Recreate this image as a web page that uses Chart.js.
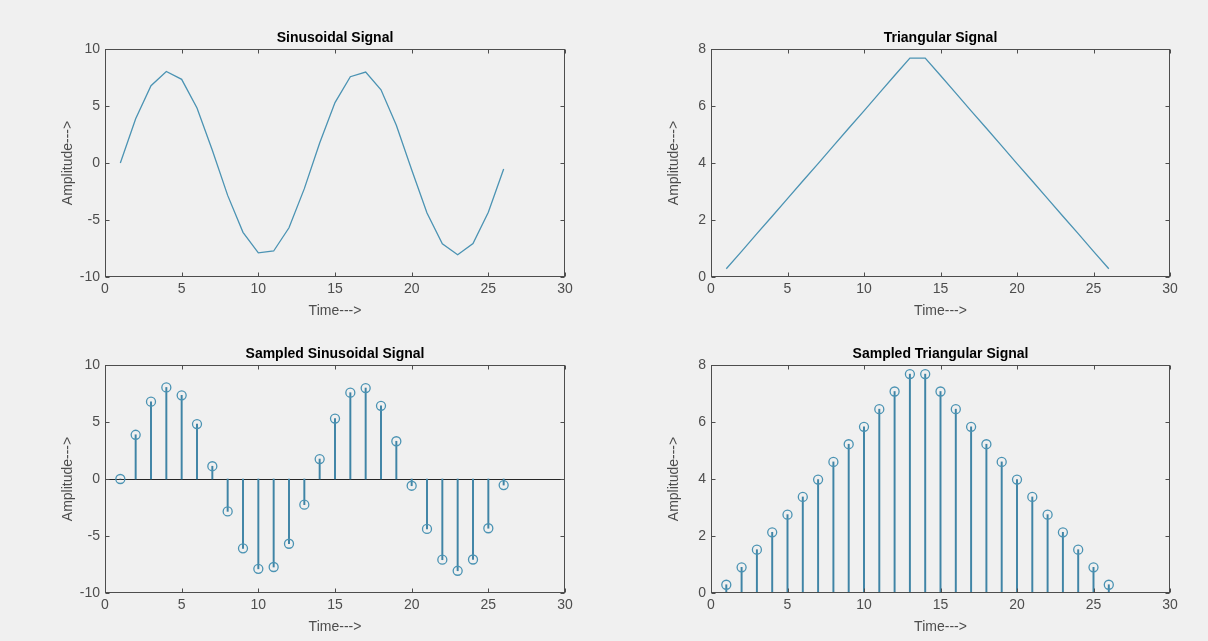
<!DOCTYPE html>
<html>
<head>
<meta charset="utf-8">
<title>Signals</title>
<script src="https://cdn.jsdelivr.net/npm/chart.js@4.4.1/dist/chart.umd.min.js"></script>
<style>
  html, body { margin: 0; padding: 0; background: #f0f0f0; }
  body { width: 1208px; height: 641px; position: relative; overflow: hidden; }
  canvas { position: absolute; }
</style>
</head>
<body>
<canvas id="sine" width="555" height="303" style="left:30px;top:19px"></canvas>
<canvas id="tri" width="554" height="303" style="left:636px;top:19px"></canvas>
<canvas id="sineS" width="555" height="303" style="left:30px;top:335px"></canvas>
<canvas id="triS" width="554" height="303" style="left:636px;top:335px"></canvas>
<script>
// sample index n = 1..26
const timeIdx = [1, 2, 3, 4, 5, 6, 7, 8, 9, 10, 11, 12, 13, 14, 15, 16, 17, 18, 19, 20, 21, 22, 23, 24, 25, 26];
const sineAmp = [0, 3.88, 6.78, 8.03, 7.34, 4.82, 1.12, -2.84, -6.08, -7.88, -7.72, -5.68, -2.25, 1.75,
                 5.3, 7.57, 7.98, 6.42, 3.31, -0.59, -4.38, -7.08, -8.05, -7.06, -4.32, -0.53];
const triAmp = [0.29, 0.9, 1.52, 2.13, 2.75, 3.37, 3.98, 4.6, 5.22, 5.83, 6.45, 7.07, 7.68,
                7.68, 7.07, 6.45, 5.83, 5.22, 4.6, 3.98, 3.37, 2.75, 2.13, 1.52, 0.9, 0.29];

const lineColor = '#4b93b3';
const stemColor = '#3f84a6';
const axisColor = '#4d4d4d';
const fontFamily = "'Liberation Sans', Arial, Helvetica, sans-serif";

function toPoints(ys) {
    return timeIdx.map((x, i) => ({ x: x, y: ys[i] }));
}

// matlab-ish box with inward ticks, baseline for stem plots, and title
const axesBox = {
    id: 'axesBox',
    beforeDatasetsDraw(chart, args, opts) {
        if (!opts.baseline) return;
        const { ctx, chartArea: a, scales } = chart;
        const y0 = Math.round(scales.y.getPixelForValue(0)) + 0.5;
        ctx.save();
        ctx.strokeStyle = '#262626';
        ctx.lineWidth = 1;
        ctx.beginPath();
        ctx.moveTo(a.left, y0);
        ctx.lineTo(a.right, y0);
        ctx.stroke();
        ctx.restore();
    },
    afterDatasetsDraw(chart, args, opts) {
        const { ctx, chartArea: a, scales } = chart;
        ctx.save();
        ctx.strokeStyle = axisColor;
        ctx.lineWidth = 1;
        const L = Math.round(a.left) + 0.5, R = Math.round(a.right) - 0.5;
        const T = Math.round(a.top) + 0.5, B = Math.round(a.bottom) - 0.5;
        ctx.strokeRect(L, T, R - L, B - T);
        ctx.beginPath();
        scales.x.ticks.forEach(t => {
            const px = Math.round(scales.x.getPixelForValue(t.value)) + 0.5;
            ctx.moveTo(px, B); ctx.lineTo(px, B - 4);
            ctx.moveTo(px, T); ctx.lineTo(px, T + 4);
        });
        scales.y.ticks.forEach(t => {
            const py = Math.round(scales.y.getPixelForValue(t.value)) + 0.5;
            ctx.moveTo(L, py); ctx.lineTo(L + 4, py);
            ctx.moveTo(R, py); ctx.lineTo(R - 4, py);
        });
        ctx.stroke();

        ctx.fillStyle = '#000';
        ctx.font = 'bold 14px ' + fontFamily;
        ctx.textAlign = 'center';
        ctx.textBaseline = 'bottom';
        ctx.fillText(opts.title, (a.left + a.right) / 2, a.top - 4);
        ctx.restore();
    }
};

function makePanel(id, title, yMin, yMax, yStep, values, sampled) {
    let datasets;
    if (sampled) {
        datasets = [{
            type: 'bar',
            data: toPoints(values),
            backgroundColor: stemColor,
            barThickness: 1.3,
            grouped: false,
            order: 2
        }, {
            type: 'scatter',
            data: toPoints(values),
            pointStyle: 'circle',
            pointRadius: 4.5,
            pointBackgroundColor: 'rgba(255,255,255,0)',
            pointBorderColor: lineColor,
            pointBorderWidth: 1.3,
            order: 1
        }];
    } else {
        datasets = [{
            type: 'line',
            data: toPoints(values),
            borderColor: lineColor,
            borderWidth: 1.3,
            pointRadius: 0,
            tension: 0,
            fill: false
        }];
    }
    return new Chart(document.getElementById(id).getContext('2d'), {
        type: 'scatter',
        data: { datasets: datasets },
        options: {
            responsive: false,
            animation: false,
            events: [],
            layout: { padding: { top: 30, right: 20, left: 0, bottom: 0 } },
            plugins: {
                legend: { display: false },
                tooltip: { enabled: false },
                axesBox: { title: title, baseline: sampled && yMin < 0 }
            },
            scales: {
                x: {
                    type: 'linear',
                    min: 0,
                    max: 30,
                    offset: false,
                    grid: { display: false, drawTicks: false },
                    border: { display: false },
                    ticks: { stepSize: 5, color: axisColor, padding: 4, font: { family: fontFamily, size: 14 } },
                    title: { display: true, text: 'Time--->', color: axisColor, padding: { top: 2, bottom: 2 },
                             font: { family: fontFamily, size: 14 } },
                    afterFit(scale) { scale.height = 45; }
                },
                y: {
                    min: yMin,
                    max: yMax,
                    grid: { display: false, drawTicks: false },
                    border: { display: false },
                    ticks: { stepSize: yStep, color: axisColor, padding: 5, font: { family: fontFamily, size: 14 } },
                    title: { display: true, text: 'Amplitude--->', color: axisColor, padding: { top: 30, bottom: 4 },
                             font: { family: fontFamily, size: 14 } },
                    afterFit(scale) { scale.width = 75; }
                }
            }
        },
        plugins: [axesBox]
    });
}

makePanel('sine', 'Sinusoidal Signal', -10, 10, 5, sineAmp, false);
makePanel('tri', 'Triangular Signal', 0, 8, 2, triAmp, false);
makePanel('sineS', 'Sampled Sinusoidal Signal', -10, 10, 5, sineAmp, true);
makePanel('triS', 'Sampled Triangular Signal', 0, 8, 2, triAmp, true);
</script>
</body>
</html>
